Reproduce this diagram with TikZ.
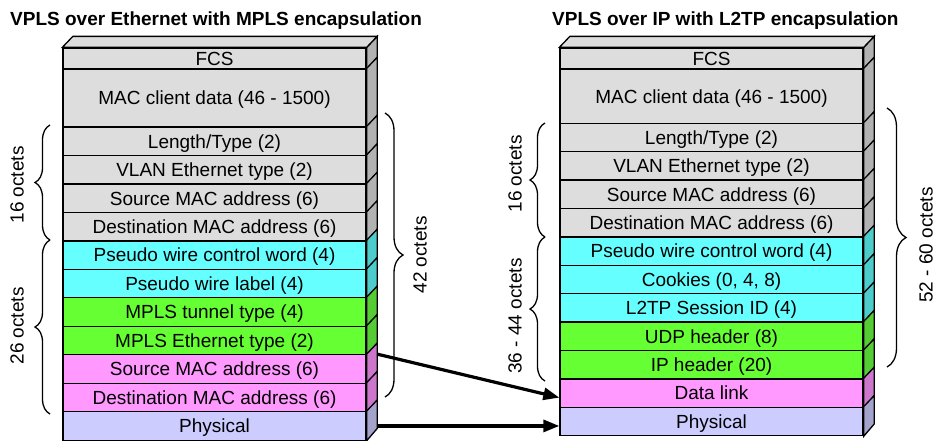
\documentclass[tikz,border=0pt]{standalone}
\usepackage{fontspec}
\setmainfont{Liberation Sans}
\usetikzlibrary{arrows.meta,decorations.pathreplacing,calc}

% front / side colours of the header layers
\definecolor{greyF}{RGB}{221,221,221}
\definecolor{greyS}{RGB}{178,178,178}
\definecolor{cyanF}{RGB}{102,255,255}
\definecolor{cyanS}{RGB}{77,204,204}
\definecolor{greenF}{RGB}{102,255,51}
\definecolor{greenS}{RGB}{85,204,51}
\definecolor{pinkF}{RGB}{255,153,255}
\definecolor{pinkS}{RGB}{204,119,204}
\definecolor{lavF}{RGB}{204,204,255}
\definecolor{lavS}{RGB}{163,163,204}

% depth of the 3-D side faces
\newcommand\dx{10.5}
\newcommand\dy{11}

\tikzset{
  edge/.style={draw=black, line width=1.3pt},
  cell/.style={edge, rectangle, inner sep=0pt, minimum width=303pt,
    font=\fontsize{19}{22}\selectfont, text height=13.7pt, text depth=0pt},
  title/.style={font=\fontsize{19}{22}\selectfont\bfseries, anchor=base west, inner sep=0pt},
  brc/.style={line width=1.3pt, decorate, decoration={brace, amplitude=#1}},
  brclabel/.style={font=\fontsize{19}{22}\selectfont, rotate=90, inner sep=0pt},
  arr/.style={line width=3.2pt, -{Triangle[length=16pt,width=12pt]}}
}

% one layer: name, left x, top y, bottom y, front colour, side colour, text
\newcommand\layer[7]{%
  \node[cell, fill=#5, minimum height={(#4-(#3))*1pt}] (#1) at ({#2+151.5},{(#3+#4)/2}) {#7};
  \filldraw[fill=#6, edge] (#1.north east) -- ++(\dx,-\dy) -- ++(0,{#4-(#3)}) -- (#1.south east) -- cycle;
}
% top face of a stack, above its first layer
\newcommand\topface[1]{%
  \filldraw[fill=greyF, edge] (#1.north west) -- ++(\dx,-\dy)
    -- ([shift={(\dx pt,\dy pt)}]#1.north east) -- (#1.north east) -- cycle;
}

\begin{document}
\begin{tikzpicture}[x=1pt, y=-1pt]
\useasboundingbox (0,0) rectangle (940,440);

% titles
\node[title] (tl) at (10,25) {VPLS over Ethernet with MPLS encapsulation};
\node[title] (tr) at (552,25) {VPLS over IP with L2TP encapsulation};

% stack: VPLS over Ethernet with MPLS
\layer{LFCS}{63}{48}{69}{greyF}{greyS}{FCS}
\topface{LFCS}
\layer{LMAC}{63}{69}{127}{greyF}{greyS}{MAC client data (46 - 1500)}
\layer{LLen}{63}{127}{155.47}{greyF}{greyS}{Length/Type (2)}
\layer{LVlan}{63}{155.47}{183.94}{greyF}{greyS}{VLAN Ethernet type (2)}
\layer{LSrcA}{63}{183.94}{212.41}{greyF}{greyS}{Source MAC address (6)}
\layer{LDstA}{63}{212.41}{240.88}{greyF}{greyS}{Destination MAC address (6)}
\layer{LPwc}{63}{240.88}{269.35}{cyanF}{cyanS}{Pseudo wire control word (4)}
\layer{LPwl}{63}{269.35}{297.82}{cyanF}{cyanS}{Pseudo wire label (4)}
\layer{LTun}{63}{297.82}{326.29}{greenF}{greenS}{MPLS tunnel type (4)}
\layer{LEth}{63}{326.29}{354.76}{greenF}{greenS}{MPLS Ethernet type (2)}
\layer{LSrcB}{63}{354.76}{383.23}{pinkF}{pinkS}{Source MAC address (6)}
\layer{LDstB}{63}{383.23}{411.7}{pinkF}{pinkS}{Destination MAC address (6)}
\layer{LPhy}{63}{411.7}{440.17}{lavF}{lavS}{Physical}

% stack: VPLS over IP with L2TP
\layer{RFCS}{560}{48}{69}{greyF}{greyS}{FCS}
\topface{RFCS}
\layer{RMAC}{560}{69}{123.3}{greyF}{greyS}{MAC client data (46 - 1500)}
\layer{RLen}{560}{123.3}{151.7}{greyF}{greyS}{Length/Type (2)}
\layer{RVlan}{560}{151.7}{180.1}{greyF}{greyS}{VLAN Ethernet type (2)}
\layer{RSrc}{560}{180.1}{208.5}{greyF}{greyS}{Source MAC address (6)}
\layer{RDst}{560}{208.5}{236.9}{greyF}{greyS}{Destination MAC address (6)}
\layer{RPwc}{560}{236.9}{265.3}{cyanF}{cyanS}{Pseudo wire control word (4)}
\layer{RCook}{560}{265.3}{293.7}{cyanF}{cyanS}{Cookies (0, 4, 8)}
\layer{RSess}{560}{293.7}{322.1}{cyanF}{cyanS}{L2TP Session ID (4)}
\layer{RUdp}{560}{322.1}{350.5}{greenF}{greenS}{UDP header (8)}
\layer{RIp}{560}{350.5}{378.9}{greenF}{greenS}{IP header (20)}
\layer{RDL}{560}{378.9}{407.3}{pinkF}{pinkS}{Data link}
\layer{RPhy}{560}{407.3}{435.7}{lavF}{lavS}{Physical}

% octet braces, left stack
\draw[brc=15pt] (50,240) -- (50,125);
\node[brclabel] (l16) at (17,185) {16 octets};
\draw[brc=15pt] (50,414) -- (50,240);
\node[brclabel] (l26) at (17,326) {26 octets};
\draw[brc=18pt] (385,113) -- (385,397);
\node[brclabel] (l42) at (420,255) {42 octets};

% octet braces, right stack
\draw[brc=15pt] (545,237) -- (545,123);
\node[brclabel] (r16) at (515,174) {16 octets};
\draw[brc=15pt] (545,381) -- (545,237);
\node[brclabel] (r36) at (515,316) {36 - 44 octets};
\draw[brc=19pt] (887,108) -- (887,367);
\node[brclabel] (r52) at (926,245) {52 - 60 octets};

% mapping arrows
\draw[arr] ([xshift=\dx pt]LSrcB.north east) -- ([yshift=-4.5pt]RDL.west);
\draw[arr] ([xshift=\dx pt]LPhy.east) -- (LPhy.east -| RPhy.west);
\end{tikzpicture}
\end{document}
